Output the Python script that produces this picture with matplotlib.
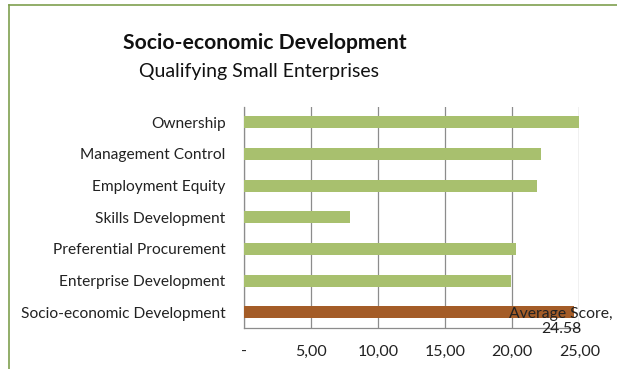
import matplotlib
matplotlib.use("Agg")
import matplotlib.pyplot as plt
from matplotlib.lines import Line2D

categories = ["Ownership", "Management Control", "Employment Equity", "Skills Development",
              "Preferential Procurement", "Enterprise Development", "Socio-economic Development"]
values = [25.0, 22.18, 21.88, 7.9, 20.27, 19.92, 24.58]
colors = ["#A8C06E"] * 6 + ["#A45C27"]
xticks = [0, 5, 10, 15, 20, 25]
xticklabels = ["-", "5,00", "10,00", "15,00", "20,00", "25,00"]

plt.rcParams['font.family'] = ['Lato', 'DejaVu Sans']

W, H = 617, 369
fig = plt.figure(figsize=(W / 100, H / 100), dpi=100)
ax = fig.add_axes([243.7 / W, 1 - 328.0 / H, (579.3 - 243.7) / W, (328.0 - 106.5) / H])

ypos = list(range(len(categories)))
ax.barh(ypos, values, height=0.38, color=colors, zorder=3)
ax.set_ylim(len(categories) - 0.5, -0.5)
ax.set_xlim(0, 25)
ax.set_yticks(ypos)
ax.set_yticklabels(categories, fontsize=11.2, color="#222222")
ax.set_xticks(xticks)
ax.set_xticklabels(xticklabels, fontsize=11.5, color="#222222")
ax.tick_params(axis='both', length=0)
ax.tick_params(axis='x', pad=12)
ax.tick_params(axis='y', pad=13)
ax.grid(axis='x', color="#8C8C8C", linewidth=0.9, zorder=0)
for s in ["top", "right"]:
    ax.spines[s].set_visible(False)
for s in ["left", "bottom"]:
    ax.spines[s].set_color("#8C8C8C")
    ax.spines[s].set_linewidth(0.9)

ax.text(23.65, 6.3, "Average Score,\n24.58", ha='center', va='center', fontsize=11.3,
        color="#222222", linespacing=1.05, zorder=4)

fig.text(265 / W, 1 - 43 / H, "Socio-economic Development", ha='center', va='center',
         fontsize=15.2, fontweight='bold', color="#111111")
fig.text(259 / W, 1 - 72 / H, "Qualifying Small Enterprises", ha='center', va='center',
         fontsize=14, color="#111111")

fig.add_artist(Line2D([9 / W, 1], [1 - 5 / H, 1 - 5 / H], transform=fig.transFigure,
                      color="#7F9F4F", linewidth=1.2))
fig.add_artist(Line2D([9 / W, 9 / W], [0, 1 - 5 / H], transform=fig.transFigure,
                      color="#7F9F4F", linewidth=1.2))

fig.savefig("out.png", dpi=100)
